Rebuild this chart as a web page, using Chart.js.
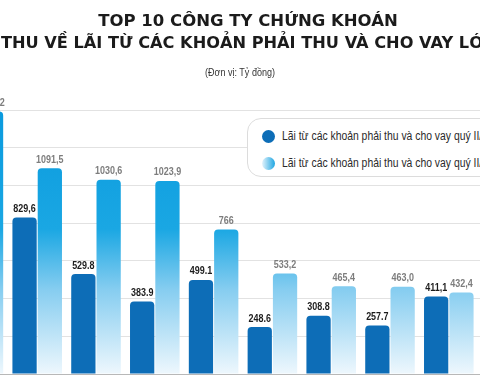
<!DOCTYPE html>
<html>
<head>
<meta charset="utf-8">
<script src="https://cdn.jsdelivr.net/npm/chart.js@4/dist/chart.umd.min.js"></script>
<style>
  html, body { margin: 0; padding: 0; background: #fff; }
  body { width: 480px; height: 384px; overflow: hidden; position: relative; }
  #wrap { position: absolute; left: -51px; top: 0; width: 588px; height: 384px; }
  .title { position: absolute; transform: translateX(-50%); white-space: nowrap;
           font-family: "DejaVu Sans", sans-serif; font-weight: bold; color: #1b1b1b; z-index: 2; }
  #t1 { top: 11px; left: 248px; font-size: 16.5px; }
  #t2 { top: 33px; left: 241px; font-size: 16.2px; }
  #unit { position: absolute; left: 240px; top: 66px; white-space: nowrap;
          transform: translateX(-50%) scaleX(0.82);
          font-family: "Liberation Sans", sans-serif; font-size: 11px; color: #333; z-index: 2; }
  #legend { position: absolute; left: 247px; top: 118px; width: 300px; height: 57px; background: #fff;
            border: 1px solid #dcdcdc; border-radius: 14px; z-index: 2; }
  .item { position: absolute; left: 14px; white-space: nowrap; }
  .txt { display: inline-block; vertical-align: middle; transform: scaleX(0.83); transform-origin: left center;
         font-family: "Liberation Sans", sans-serif; font-size: 12.5px; color: #2a2a2a; }
  .dot { display: inline-block; width: 13px; height: 13px; border-radius: 50%; vertical-align: middle; margin-right: 7px; }
  #i1 { top: 7px; }
  #i2 { top: 34px; }
  #d1 { background: #0d6db7; }
  #d2 { background: linear-gradient(90deg, #e3f3fc, #1ea6e2); }
</style>
</head>
<body>
<div class="title" id="t1">TOP 10 CÔNG TY CHỨNG KHOÁN</div>
<div class="title" id="t2">DOANH THU VỀ LÃI TỪ CÁC KHOẢN PHẢI THU VÀ CHO VAY LỚN NHẤT</div>
<div id="unit">(Đơn vị: Tỷ đồng)</div>
<div id="legend">
  <div class="item" id="i1"><span class="dot" id="d1"></span><span class="txt">Lãi từ các khoản phải thu và cho vay quý II/2023</span></div>
  <div class="item" id="i2"><span class="dot" id="d2"></span><span class="txt">Lãi từ các khoản phải thu và cho vay quý II/2024</span></div>
</div>
<div id="wrap"><canvas id="chart" width="588" height="384"></canvas></div>
<script>
// ten companies, names are below the visible crop
const companies = ['Công ty 1', 'Công ty 2', 'Công ty 3', 'Công ty 4', 'Công ty 5',
                   'Công ty 6', 'Công ty 7', 'Công ty 8', 'Công ty 9', 'Công ty 10'];
const prevQuarter = [980, 829.6, 529.8, 383.9, 499.1, 248.6, 308.8, 257.7, 411.1, 300];
const thisQuarter = [1392.2, 1091.5, 1030.6, 1023.9, 766, 533.2, 465.4, 463.0, 432.4, 400];
const prevLabels = ['980,0', '829,6', '529.8', '383.9', '499.1', '248.6', '308.8', '257.7', '411,1', '300,0'];
const thisLabels = ['1392,2', '1091,5', '1030,6', '1023,9', '766', '533,2', '465,4', '463,0', '432,4', '400,0'];
const yTicks = [0, 200, 400, 600, 800, 1000, 1200, 1400];

function lightGradient(context) {
  const area = context.chart.chartArea;
  if (!area) return '#1ea6e2';
  const g = context.chart.ctx.createLinearGradient(0, area.top, 0, area.bottom);
  g.addColorStop(0, '#0a9ade');
  g.addColorStop(0.45, '#1aa7e3');
  g.addColorStop(0.68, '#86cdf0');
  g.addColorStop(1, '#eef7fd');
  return g;
}

// condensed bold numbers above the bars
const valueLabels = {
  id: 'valueLabels',
  afterDatasetsDraw(chart) {
    const ctx = chart.ctx;
    chart.data.datasets.forEach((ds, di) => {
      const meta = chart.getDatasetMeta(di);
      meta.data.forEach((bar, i) => {
        ctx.save();
        ctx.font = 'bold 11.5px "Liberation Sans", sans-serif';
        ctx.textAlign = 'center';
        ctx.textBaseline = 'bottom';
        ctx.fillStyle = di === 0 ? '#1c1c1c' : '#7d7d7d';
        ctx.translate(bar.x, bar.y - 3);
        ctx.scale(0.78, 1);
        ctx.fillText(ds.labelsText[i], 0, 0);
        ctx.restore();
      });
    });
  }
};

new Chart(document.getElementById('chart'), {
  type: 'bar',
  data: {
    labels: companies,
    datasets: [
      {
        label: 'Lãi từ các khoản phải thu và cho vay quý II/2023',
        data: prevQuarter,
        labelsText: prevLabels,
        backgroundColor: '#0d6db7',
        borderRadius: { topLeft: 4, topRight: 4 },
        borderSkipped: 'bottom',
        barPercentage: 0.96,
        categoryPercentage: 0.86
      },
      {
        label: 'Lãi từ các khoản phải thu và cho vay quý II/2024',
        data: thisQuarter,
        labelsText: thisLabels,
        backgroundColor: lightGradient,
        borderRadius: { topLeft: 4, topRight: 4 },
        borderSkipped: 'bottom',
        barPercentage: 0.96,
        categoryPercentage: 0.86
      }
    ]
  },
  options: {
    responsive: false,
    animation: false,
    layout: { padding: { top: 110, bottom: 10, left: 0, right: 0 } },
    plugins: {
      legend: { display: false },
      tooltip: { enabled: false }
    },
    scales: {
      x: { display: false },
      y: {
        min: 0,
        max: 1400,
        afterBuildTicks: axis => { axis.ticks = yTicks.map(v => ({ value: v })); },
        ticks: { display: false },
        border: { display: false },
        grid: {
          drawTicks: false,
          color: c => c.tick && c.tick.value === 0 ? '#b8b8b8' : '#e2e2e2'
        }
      }
    }
  },
  plugins: [valueLabels]
});
</script>
</body>
</html>
